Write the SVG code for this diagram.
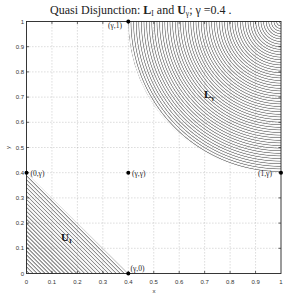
<svg xmlns="http://www.w3.org/2000/svg" width="286" height="297" viewBox="0 0 286 297">
<style>
.grid{stroke:#909090;stroke-width:0.6;stroke-dasharray:0.8,2.2;fill:none}
.tick{font-family:"Liberation Sans",Arial,sans-serif;font-size:6px;fill:#333}
.pl{font-family:"Liberation Serif","Times New Roman",serif;font-size:7.5px;fill:#222}
.ttl{font-family:"Liberation Serif","Times New Roman",serif;font-size:12px;fill:#222}
.reg{font-family:"Liberation Serif","Times New Roman",serif;font-size:11px;font-weight:bold;fill:#111}
.box{stroke:#222;stroke-width:0.9;fill:none}
.tk{stroke:#222;stroke-width:0.7}
.pt{fill:#000}
</style>
<defs>
<radialGradient id="rings" gradientUnits="userSpaceOnUse" cx="281" cy="21.5" r="2.6" spreadMethod="repeat">
<stop offset="0" stop-color="#fff"/>
<stop offset="0.45" stop-color="#f4f4f4"/>
<stop offset="0.6" stop-color="#959595"/>
<stop offset="0.78" stop-color="#959595"/>
<stop offset="0.95" stop-color="#f4f4f4"/>
<stop offset="1" stop-color="#fff"/>
</radialGradient>
<linearGradient id="lines" gradientUnits="userSpaceOnUse" x1="26.5" y1="273.5" x2="28.48" y2="271.52" spreadMethod="repeat">
<stop offset="0" stop-color="#fff"/>
<stop offset="0.45" stop-color="#f4f4f4"/>
<stop offset="0.6" stop-color="#8e8e8e"/>
<stop offset="0.8" stop-color="#8e8e8e"/>
<stop offset="0.95" stop-color="#f4f4f4"/>
<stop offset="1" stop-color="#fff"/>
</linearGradient>
</defs>
<rect width="286" height="297" fill="#fff"/>
<g id="region-L">
<path d="M128.3,21.5 L281,21.5 L281,172.7 A152.7,151.2 0 0 1 128.3,21.5 Z" fill="url(#rings)"/>
</g>
<g id="region-U">
<path d="M26.5,172.7 L26.5,273.5 L128.3,273.5 Z" fill="url(#lines)"/>
</g>
<g id="grid">
<path class="grid" d="M51.95,21.5V273.5M77.4,21.5V273.5M102.85,21.5V273.5M128.3,21.5V273.5M153.75,21.5V273.5M179.2,21.5V273.5M204.65,21.5V273.5M230.1,21.5V273.5M255.55,21.5V273.5"/>
<path class="grid" d="M26.5,248.3H281M26.5,223.1H281M26.5,197.9H281M26.5,172.7H281M26.5,147.5H281M26.5,122.3H281M26.5,97.1H281M26.5,71.9H281M26.5,46.7H281"/>
</g>
<g id="axes">
<rect class="box" x="26.5" y="21.5" width="254.5" height="252"/>
<path class="tk" d="M51.95,273.5v-2.5M77.4,273.5v-2.5M102.85,273.5v-2.5M128.3,273.5v-2.5M153.75,273.5v-2.5M179.2,273.5v-2.5M204.65,273.5v-2.5M230.1,273.5v-2.5M255.55,273.5v-2.5M51.95,21.5v2.5M77.4,21.5v2.5M102.85,21.5v2.5M128.3,21.5v2.5M153.75,21.5v2.5M179.2,21.5v2.5M204.65,21.5v2.5M230.1,21.5v2.5M255.55,21.5v2.5M26.5,248.3h2.5M26.5,223.1h2.5M26.5,197.9h2.5M26.5,172.7h2.5M26.5,147.5h2.5M26.5,122.3h2.5M26.5,97.1h2.5M26.5,71.9h2.5M26.5,46.7h2.5M281,248.3h-2.5M281,223.1h-2.5M281,197.9h-2.5M281,172.7h-2.5M281,147.5h-2.5M281,122.3h-2.5M281,97.1h-2.5M281,71.9h-2.5M281,46.7h-2.5"/>
<g class="tick" text-anchor="middle">
<text x="26.5" y="283.5">0</text><text x="51.95" y="283.5">0.1</text><text x="77.4" y="283.5">0.2</text><text x="102.85" y="283.5">0.3</text><text x="128.3" y="283.5">0.4</text><text x="153.75" y="283.5">0.5</text><text x="179.2" y="283.5">0.6</text><text x="204.65" y="283.5">0.7</text><text x="230.1" y="283.5">0.8</text><text x="255.55" y="283.5">0.9</text><text x="281" y="283.5">1</text>
</g>
<g class="tick" text-anchor="end">
<text x="24" y="275.5">0</text><text x="24" y="250.3">0.1</text><text x="24" y="225.1">0.2</text><text x="24" y="199.9">0.3</text><text x="24" y="174.7">0.4</text><text x="24" y="149.5">0.5</text><text x="24" y="124.3">0.6</text><text x="24" y="99.1">0.7</text><text x="24" y="73.9">0.8</text><text x="24" y="48.7">0.9</text><text x="24" y="23.5">1</text>
</g>
<text class="tick" x="154" y="292.5" text-anchor="middle" font-size="7">x</text>
<text class="tick" x="0" y="0" text-anchor="middle" font-size="7" transform="translate(9.5,147.5) rotate(-90)">y</text>
</g>
<g id="points">
<circle class="pt" cx="128.3" cy="21.5" r="2"/>
<circle class="pt" cx="26.5" cy="172.7" r="2"/>
<circle class="pt" cx="128.3" cy="172.7" r="2"/>
<circle class="pt" cx="281" cy="172.7" r="2"/>
<circle class="pt" cx="128.3" cy="273.5" r="2"/>
<text class="pl" x="108" y="28">(γ,1)</text>
<text class="pl" x="30.5" y="175.5">(0,γ)</text>
<text class="pl" x="132" y="175.5">(γ,γ)</text>
<text class="pl" x="258" y="175.5">(1,γ)</text>
<text class="pl" x="130.5" y="270.5">(γ,0)</text>
</g>
<g id="labels">
<text class="reg" x="204" y="98">L<tspan font-size="7" dy="2">γ</tspan></text>
<text class="reg" x="61" y="241">U<tspan font-size="7" dy="2">I</tspan></text>
<text class="ttl" x="50" y="14">Quasi Disjunction: <tspan font-weight="bold">L</tspan><tspan font-size="7.5" dy="2">I</tspan><tspan dy="-2"> and </tspan><tspan font-weight="bold">U</tspan><tspan font-size="7.5" dy="2">γ</tspan><tspan dy="-2">; γ =0.4 .</tspan></text>
</g>
</svg>
